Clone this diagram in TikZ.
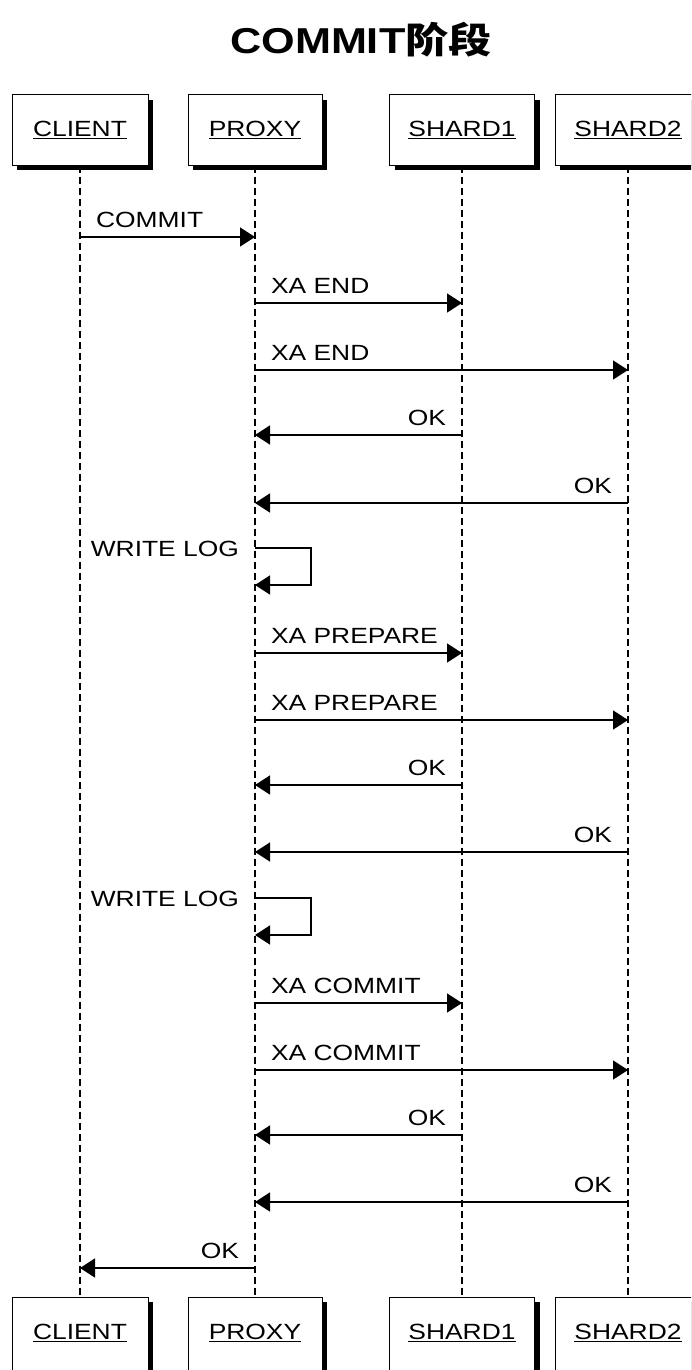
\documentclass[tikz,border=0pt]{standalone}
\usepackage{fontspec}
\setmainfont{Liberation Sans}[FakeStretch=1.2]
\newfontfamily\cjk{Noto Sans CJK SC}[FakeStretch=1.2]
\usetikzlibrary{arrows.meta,shadows}

\begin{document}
\begin{tikzpicture}[x=1pt,y=-1pt,
	every node/.style={font=\fontsize{22}{26}\selectfont},
	actor/.style={draw, line width=1pt, fill=white, minimum width=136pt, minimum height=70pt,
		drop shadow={shadow xshift=5pt, shadow yshift=-5pt, fill=black, opacity=1}},
	lifeline/.style={dashed, dash pattern=on 7pt off 4pt, line width=1.3pt},
	msg/.style={line width=1.5pt, -{Triangle[length=15pt,width=19pt]}}]
	\useasboundingbox (0,0) rectangle (691,1370);
	\clip (0,0) rectangle (691,1370);
	\node[font=\fontsize{36}{40}\bfseries] (title) at (361,40) {COMMIT{\cjk\bfseries 阶段}};
	% participants, top and bottom
	\node[actor] (client) at (80,130) {\underline{CLIENT}};
	\node[actor, minimum width=134pt] (proxy) at (255,130) {\underline{PROXY}};
	\node[actor, minimum width=145pt] (shard1) at (462,130) {\underline{SHARD1}};
	\node[actor, minimum width=146pt] (shard2) at (628,130) {\underline{SHARD2}};
	\node[actor, minimum height=80pt, text depth=10pt] (clientB) at (80,1337) {\underline{CLIENT}};
	\node[actor, minimum width=134pt, minimum height=80pt, text depth=10pt] (proxyB) at (255,1337) {\underline{PROXY}};
	\node[actor, minimum width=145pt, minimum height=80pt, text depth=10pt] (shard1B) at (462,1337) {\underline{SHARD1}};
	\node[actor, minimum width=146pt, minimum height=80pt, text depth=10pt] (shard2B) at (628,1337) {\underline{SHARD2}};
	\foreach \p in {client,proxy,shard1,shard2}
		\draw[lifeline] (\p) -- (\p B);
	% messages to the right
	\foreach \a/\b/\y/\t in {client/proxy/237/COMMIT, proxy/shard1/303/XA END, proxy/shard2/370/XA END,
		proxy/shard1/653/XA PREPARE, proxy/shard2/720/XA PREPARE,
		proxy/shard1/1003/XA COMMIT, proxy/shard2/1070/XA COMMIT}
		\draw[msg] (\a |- 0,\y) -- node[pos=0, anchor=base west, xshift=12pt, yshift=10pt] {\t} (\b |- 0,\y);
	% replies to the left
	\foreach \a/\b/\y in {shard1/proxy/435, shard2/proxy/503, shard1/proxy/785, shard2/proxy/852,
		shard1/proxy/1135, shard2/proxy/1202, proxy/client/1268}
		\draw[msg] (\a |- 0,\y) -- node[pos=0, anchor=base east, xshift=-12pt, yshift=10pt] {OK} (\b |- 0,\y);
	% self calls
	\foreach \y in {548,898}
		\draw[msg] (proxy |- 0,\y) node[anchor=base east, xshift=-12pt, yshift=-8pt] {WRITE LOG}
			-- ++(56,0) -- ++(0,37) -- (proxy |- 0,\y+37);
\end{tikzpicture}
\end{document}
